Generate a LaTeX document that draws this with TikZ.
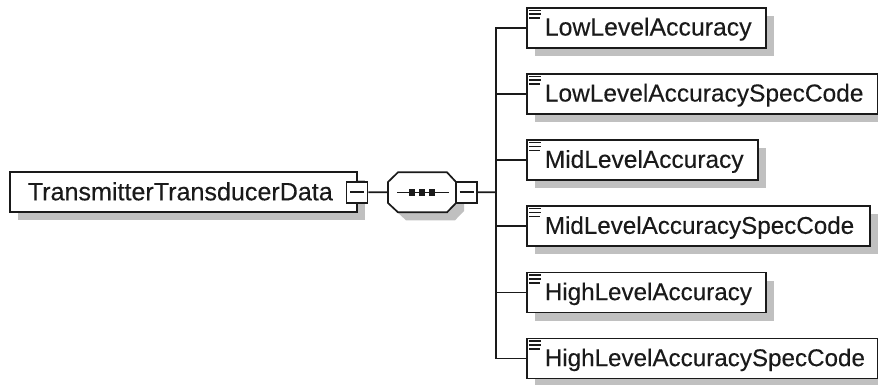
\documentclass[tikz,border=0pt]{standalone}
\usepackage{fontspec}
\setmainfont[FakeBold=0.25]{Liberation Sans}
\usetikzlibrary{shadows}
\definecolor{ink}{HTML}{1A1A1A}
\definecolor{shade}{HTML}{C0C0C0}
\newcommand\lblsize[1]{\fontsize{#1}{#1}\selectfont}
\tikzset{
  x=1pt,y=-1pt,
  ln/.style={draw=ink,line width=1.7pt},
  shd/.style={drop shadow={shadow xshift=8pt,shadow yshift=-8pt,fill=shade,opacity=1}},
  elembox/.style={ln,fill=white,shd,rectangle,inner sep=0pt,minimum height=40pt,text=ink,text height=19pt,text depth=4pt,align=left},
  mainbox/.style={elembox,minimum width=347pt,text width=347pt,text height=20pt,text depth=4pt,execute at begin node={\hspace*{18pt}}},
  childbox/.style={elembox,anchor=west,text width=#1,minimum width=#1,execute at begin node={\hspace*{18pt}}},
  expbox/.style={ln,fill=white,rectangle,inner sep=0pt,minimum size=21pt},
  anchorbox/.style={inner sep=0pt,minimum width=68pt,minimum height=40pt},
  icon/.style={draw=ink,line width=1.6pt},
  glyph/.style={draw=ink,line width=1.5pt},
  dot/.style={fill=ink,inner sep=0pt,minimum size=6.5pt,rectangle},
}
\begin{document}
\begin{tikzpicture}
\useasboundingbox (0,0) rectangle (878,384);
\node[mainbox] (main) at (183.3,192.3) {\lblsize{25.1}TransmitterTransducerData};
\node[expbox] (exp1) at (357,192.2) {};
\draw[glyph] ([xshift=-7pt]exp1.center) -- ([xshift=7pt]exp1.center);
% sequence compositor
\node[anchorbox] (seq) at (422,192.3) {};
\draw[ln,fill=white,shd] (388,182) -- (398,172.3) -- (447,172.3) -- (456,182) -- (456,203) -- (447,212.3) -- (398,212.3) -- (388,203) -- cycle;
\node[dot] (d1) at (412,192.3) {};
\node[dot] (d2) at (422,192.3) {};
\node[dot] (d3) at (432,192.3) {};
\coordinate (sl) at (397,192.3);
\coordinate (sr) at (449,192.3);
\draw[glyph] (sl) -- (d1) -- (d2) -- (d3) -- (sr);
\node[expbox] (exp2) at (466.5,192.2) {};
\draw[glyph] ([xshift=-7pt]exp2.center) -- ([xshift=7pt]exp2.center);
\coordinate (bus) at (496,192.3);
\node[childbox=239pt] (c1) at (526,28) {\lblsize{24.8}LowLevelAccuracy};
\node[childbox=351pt] (c2) at (526,94) {\lblsize{24.5}LowLevelAccuracySpecCode};
\node[childbox=231pt] (c3) at (526,160.3) {\lblsize{24.5}MidLevelAccuracy};
\node[childbox=343pt] (c4) at (526,226.3) {\lblsize{24.2}MidLevelAccuracySpecCode};
\node[childbox=239pt] (c5) at (526,292.6) {\lblsize{24.2}HighLevelAccuracy};
\node[childbox=351pt] (c6) at (526,358.6) {\lblsize{24.2}HighLevelAccuracySpecCode};
\draw[ln] (exp1.east) -- (seq.west);
\draw[ln] (exp2.east) -- (bus);
\draw[ln,line cap=rect] (bus |- c1.west) -- (bus |- c6.west);
\foreach \c in {c1,c2,c3,c4,c5,c6}{
  \draw[ln] (bus |- \c.west) -- (\c.west);
  \draw[icon] ([shift={(3,3.2)}]\c.north west) -- +(12,0);
  \draw[icon] ([shift={(3,7)}]\c.north west) -- +(12,0);
  \draw[icon] ([shift={(3,11)}]\c.north west) -- +(11,0);
}
\end{tikzpicture}
\end{document}
